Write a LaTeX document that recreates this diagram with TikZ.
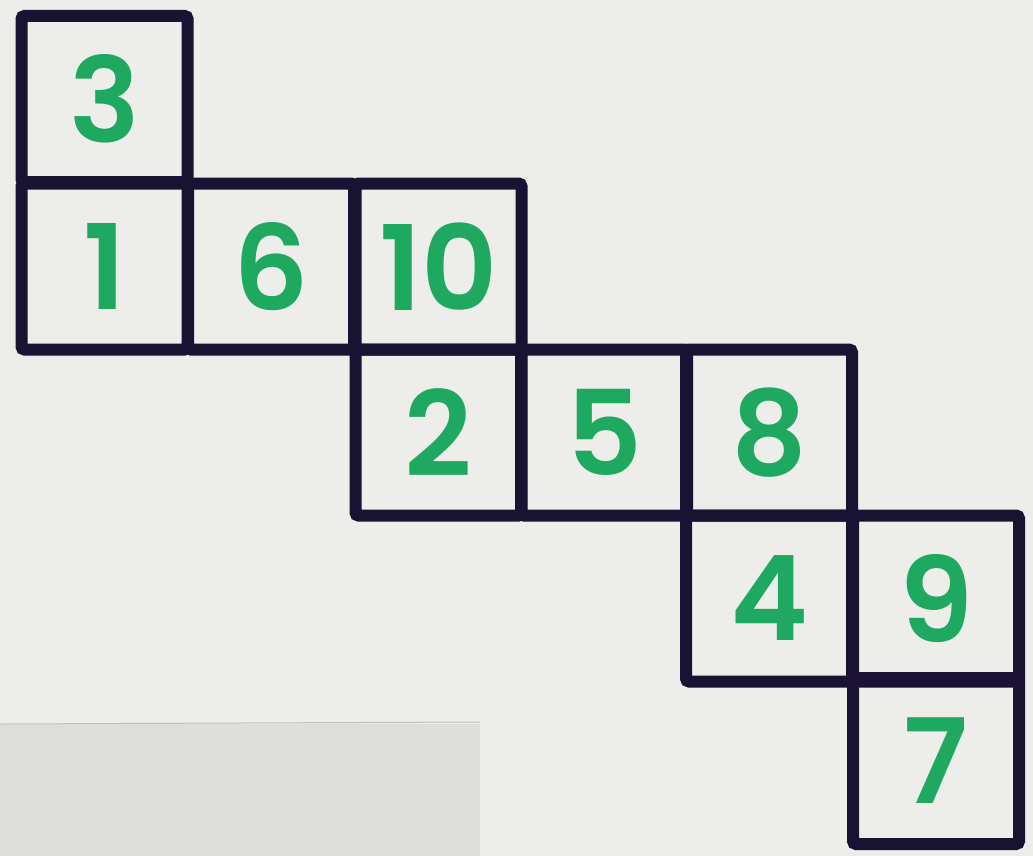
\documentclass[tikz,border=0pt]{standalone}
\usepackage{fontspec}
\newfontfamily\digitfont{Poppins SemiBold}
\definecolor{paper}{HTML}{EDEEEA}
\definecolor{patch}{HTML}{DDDED9}
\definecolor{ink}{HTML}{1A1233}
\definecolor{marker}{HTML}{1FA860}
\tikzset{
  cellbox/.style={draw=ink, line width=12pt, rounded corners=3pt, minimum width=166pt, minimum height=166pt, inner sep=0pt, text=marker, font=\digitfont\fontsize{118}{118}\selectfont},
}
\begin{document}
\begin{tikzpicture}[x=1pt,y=-1pt]
\fill[paper] (0,0) rectangle (1033,856);
\useasboundingbox (0,0) rectangle (1033,856);
\fill[patch] (0,724) rectangle (480,856);
\draw[black!25, line width=1pt] (0,724) -- (480,722);
% cells
\node[cellbox] (c3)  at (104.5,99)  {3};
\node[cellbox] (c1)  at (104.5,266.5) {1};
\node[cellbox] (c6)  at (271,266.5) {6};
\node[cellbox] (c10) at (438.5,266.5) {10};
\node[cellbox] (c2)  at (438.5,432.5) {2};
\node[cellbox] (c5)  at (604,432.5) {5};
\node[cellbox] (c8)  at (769,432.5) {8};
\node[cellbox] (c4)  at (769,598.5) {4};
\node[cellbox] (c9)  at (936,598.5) {9};
\node[cellbox] (c7)  at (936,761) {7};
\end{tikzpicture}
\end{document}
